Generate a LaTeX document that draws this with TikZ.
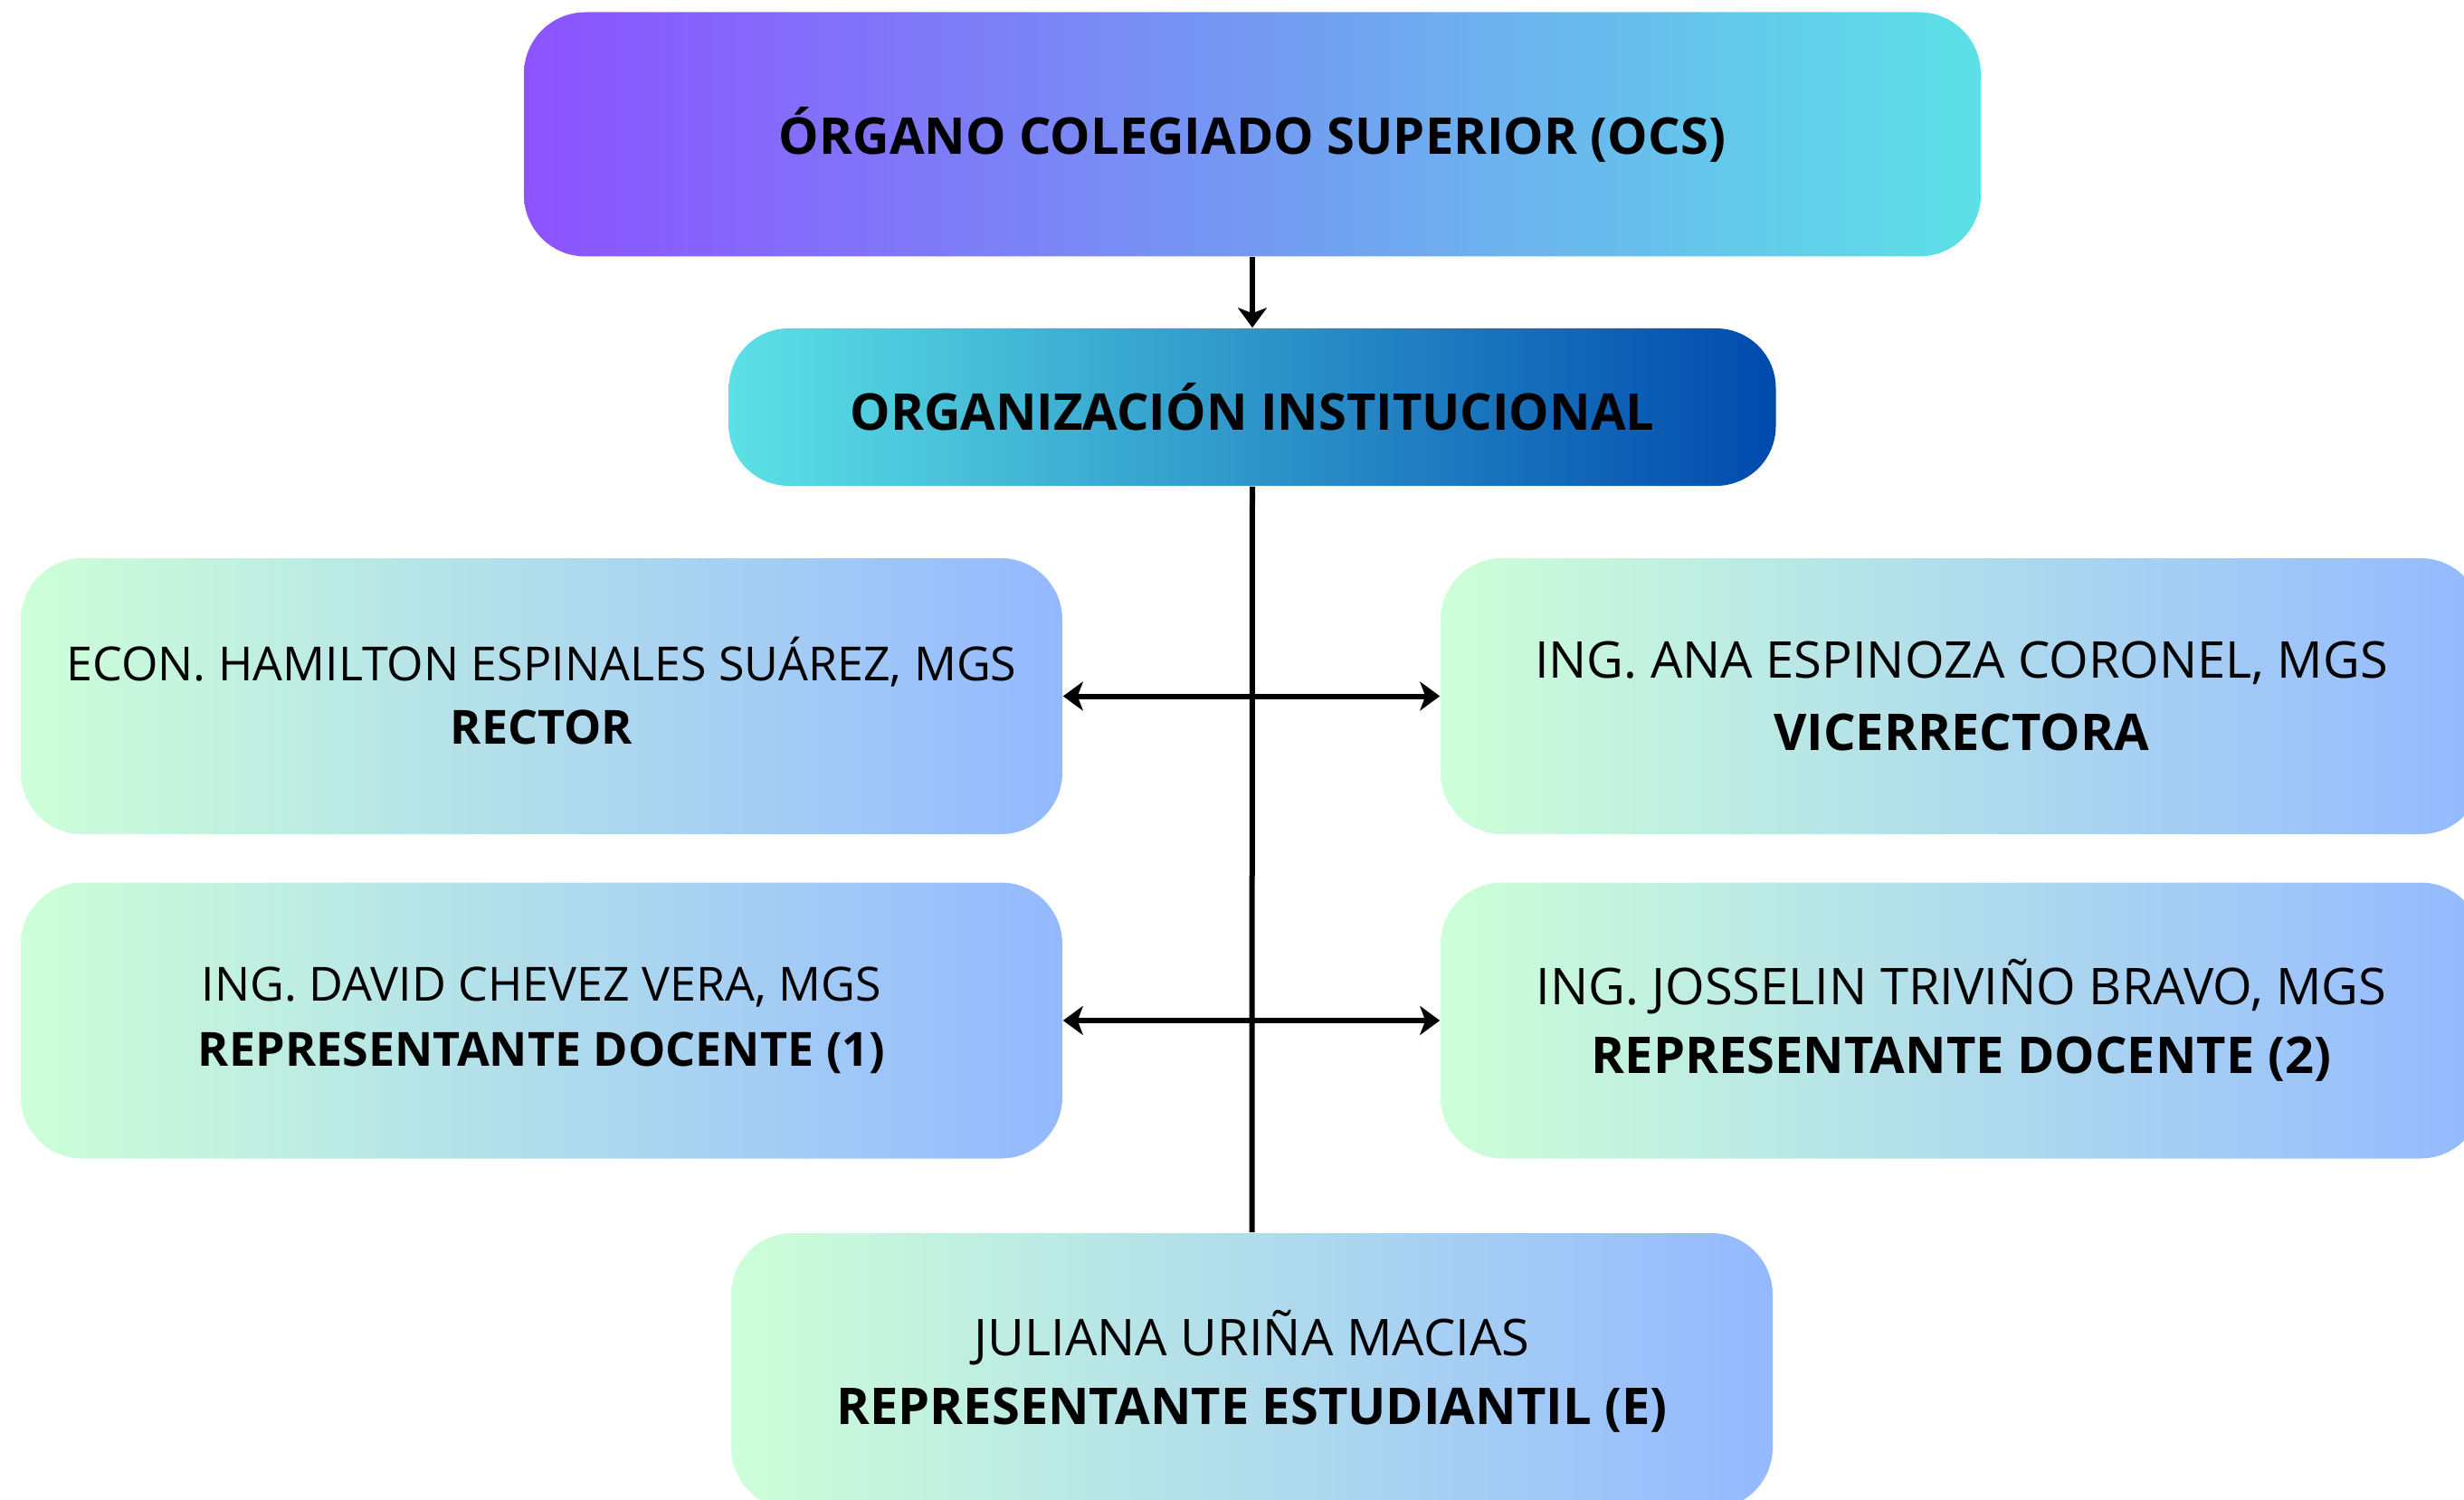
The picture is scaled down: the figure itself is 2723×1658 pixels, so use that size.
\documentclass[tikz,border=0pt]{standalone}
\usepackage{fontspec}
\setmainfont{Open Sans}
\usetikzlibrary{arrows.meta}
\definecolor{purp}{HTML}{8C52FF}
\definecolor{cyanc}{HTML}{5CE1E6}
\definecolor{dblue}{HTML}{004AAD}
\definecolor{lgreen}{HTML}{CDFFD8}
\definecolor{lblue}{HTML}{94B9FF}
\begin{document}
\begin{tikzpicture}[x=0.25pt,y=-0.25pt,
  box/.style={rounded corners=17pt, inner sep=0pt, align=center, text=black},
  headbox/.style={box, font=\bfseries\fontsize{14}{16}\selectfont},
  light/.style={box, left color=lgreen, right color=lblue, minimum width=287.75pt, minimum height=76.25pt, font=\fontsize{13}{18}\selectfont},
  lightbig/.style={light, font=\fontsize{14}{19}\selectfont},
  conn/.style={line width=1.5pt, black},
  tipa/.style={-{Stealth[length=5.5pt,width=8pt,inset=1.5pt]}},
  tipb/.style={{Stealth[length=5.5pt,width=8pt,inset=1.5pt]}-{Stealth[length=5.5pt,width=8pt,inset=1.5pt]}}]
\useasboundingbox (0,0) rectangle (2723,1658);
\clip (0,0) rectangle (2723,1658);
\node[headbox, left color=purp, right color=cyanc, minimum width=402.5pt, minimum height=67.5pt] (ocs) at (1384,148.5) {ÓRGANO COLEGIADO SUPERIOR (OCS)};
\node[headbox, left color=cyanc, right color=dblue, minimum width=289.25pt, minimum height=43.5pt, rounded corners=16.5pt] (org) at (1384,450) {ORGANIZACIÓN INSTITUCIONAL};
\node[light, font=\fontsize{13}{17.6}\selectfont] (rector) at (598.5,769.5) {ECON. HAMILTON ESPINALES SUÁREZ, MGS\\\textbf{RECTOR}\rule[-3pt]{0pt}{0pt}};
\node[lightbig] (vice) at (2167.5,769.5) {\raisebox{1pt}{ING. ANA ESPINOZA CORONEL, MGS}\\\textbf{VICERRECTORA}};
\node[light] (doc1) at (598.5,1128) {ING. DAVID CHEVEZ VERA, MGS\\\textbf{REPRESENTANTE DOCENTE (1)}};
\node[lightbig] (doc2) at (2167.5,1128) {ING. JOSSELIN TRIVIÑO BRAVO, MGS\\\textbf{REPRESENTANTE DOCENTE (2)}};
\node[lightbig] (est) at (1383.5,1515.5) {JULIANA URIÑA MACIAS\\\textbf{REPRESENTANTE ESTUDIANTIL (E)}};
\draw[conn,tipa] (ocs.south) -- (org.north);
\draw[conn] (org.south) -- (est.north);
\draw[conn,tipb] (rector.east) -- (vice.west);
\draw[conn,tipb] (doc1.east) -- (doc2.west);
\end{tikzpicture}
\end{document}
